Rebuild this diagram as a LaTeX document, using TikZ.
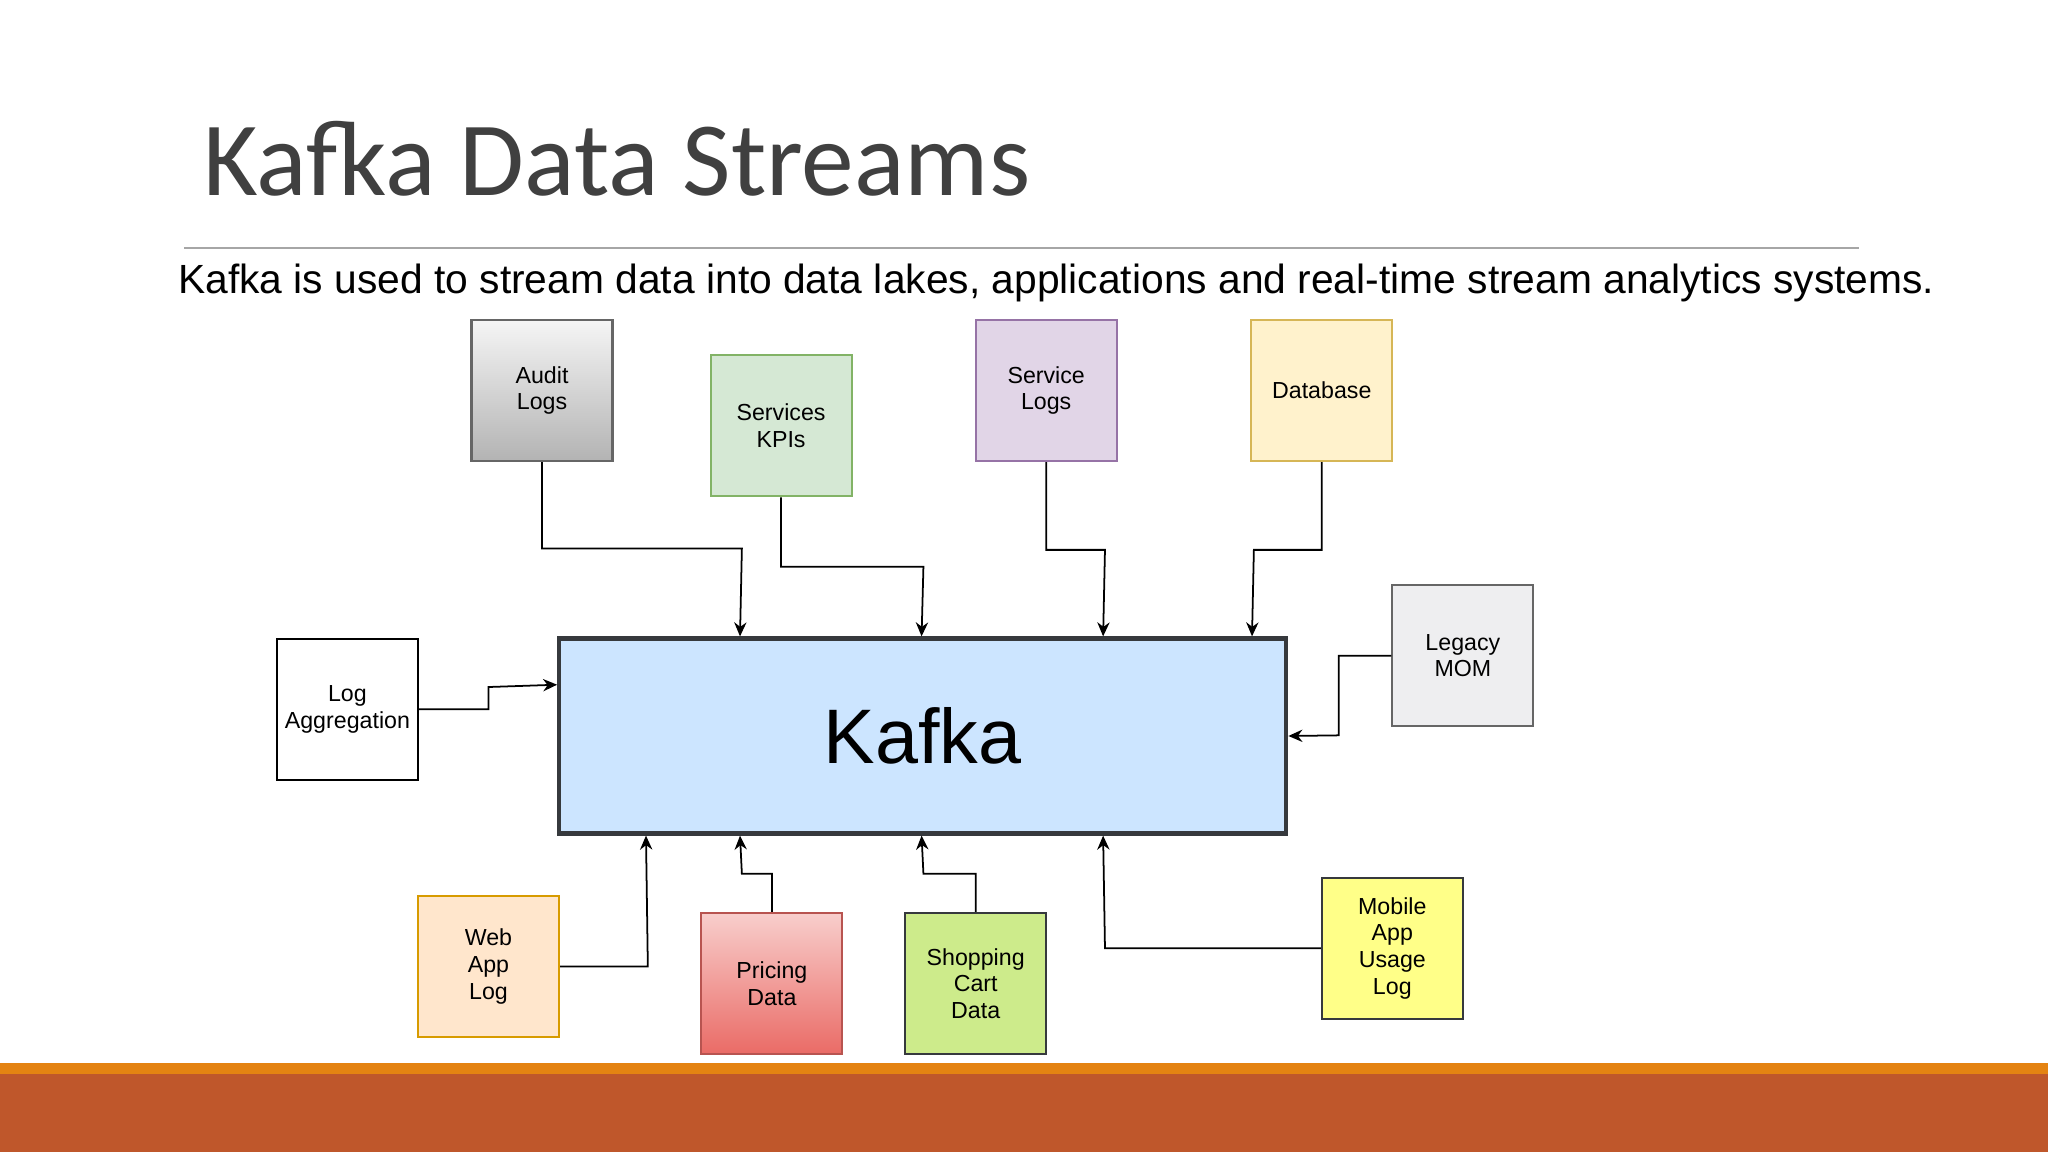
\documentclass[tikz,border=0pt]{standalone}
\usepackage{fontspec}
\setmainfont{Liberation Sans}
\newfontfamily\titlefont{Carlito}
\usetikzlibrary{calc,arrows.meta}
\definecolor{titlegray}{HTML}{404040}
\definecolor{cOrange}{HTML}{E48312}
\definecolor{cRust}{HTML}{BF572B}
\definecolor{cRule}{HTML}{A6A6A6}
\definecolor{c666}{HTML}{666666}
\definecolor{cF5}{HTML}{F5F5F5}
\definecolor{cB3}{HTML}{B3B3B3}
\definecolor{gD}{HTML}{82B366}
\definecolor{gF}{HTML}{D5E8D4}
\definecolor{pD}{HTML}{9673A6}
\definecolor{pF}{HTML}{E1D5E7}
\definecolor{yD}{HTML}{D6B656}
\definecolor{yF}{HTML}{FFF2CC}
\definecolor{momF}{HTML}{EEEEF0}
\definecolor{dk}{HTML}{36393D}
\definecolor{kF}{HTML}{CCE5FF}
\definecolor{oD}{HTML}{D79B00}
\definecolor{oF}{HTML}{FFE6CC}
\definecolor{rD}{HTML}{B85450}
\definecolor{rT}{HTML}{F8CECC}
\definecolor{rB}{HTML}{EA6B66}
\definecolor{lgF}{HTML}{CDEB8B}
\definecolor{yyF}{HTML}{FFFF88}
\begin{document}
\begin{tikzpicture}[x=0.01306cm,y=-0.01306cm,
  box/.style={draw, line width=0.6pt, minimum width=1.41cm, minimum height=1.41cm, align=center, font=\fontsize{6.6}{7.6}\selectfont, inner sep=0pt},
  arr/.style={draw, line width=0.5pt, -{Stealth[length=4pt,width=3.5pt]}}]
\useasboundingbox (0,0) rectangle (1568,882);
\fill[white] (0,0) rectangle (1568,882);
\fill[cOrange] (0,814) rectangle (1568,822);
\fill[cRust] (0,822) rectangle (1568,882);
\node[anchor=base west, text=titlegray, font=\titlefont\fontsize{30}{34}\selectfont, inner sep=0pt] (title) at (155,150) {Kafka Data Streams};
\draw[cRule, line width=0.6pt] (141,190) -- (1423,190);
\node[anchor=base west, inner sep=0pt, font=\fontsize{11.6}{14}\selectfont] (sub) at (136,225) {Kafka is used to stream data into data lakes, applications and real-time stream analytics systems.};

\node[box, draw=c666, top color=cF5, bottom color=cB3] (audit) at (415,299) {Audit\\Logs};
\node[box, draw=gD, fill=gF] (kpi) at (598,326) {Services\\KPIs};
\node[box, draw=pD, fill=pF] (slogs) at (801,299) {Service\\Logs};
\node[box, draw=yD, fill=yF] (db) at (1012,299) {Database};
\node[box, draw=c666, fill=momF] (mom) at (1120,502) {Legacy\\MOM};
\node[box, draw=black, fill=white] (logagg) at (266,543) {Log\\Aggregation};
\node[draw=dk, line width=1.2pt, fill=kF, minimum width=7.27cm, minimum height=1.95cm, font=\fontsize{22}{26}\selectfont, inner sep=0pt] (kafka) at (706.5,563.5) {Kafka};
\node[box, draw=oD, fill=oF] (web) at (374,740) {Web\\App\\Log};
\node[box, draw=rD, top color=rT, bottom color=rB] (price) at (591,753) {Pricing\\Data};
\node[box, draw=dk, fill=lgF] (cart) at (747,753) {Shopping\\Cart\\Data};
\node[box, draw=dk, fill=yyF] (mobile) at (1066,726) {Mobile\\App\\Usage\\Log};

\draw[arr] (audit.south) -- (415,420) -- (568,420) -- ($(kafka.north west)+(140,0)$);
\draw[arr] (kpi.south) -- (598,434) -- (707,434) -- ($(kafka.north west)+(279,0)$);
\draw[arr] (slogs.south) -- (801,421) -- (846,421) -- ($(kafka.north west)+(418,0)$);
\draw[arr] (db.south) -- (1012,421) -- (960,421) -- ($(kafka.north west)+(532,0)$);
\draw[arr] (mom.west) -- (1025,502) -- (1025,563) -- (kafka.east);
\draw[arr] (logagg.east) -- (374,543) -- (374,526) -- ($(kafka.north west)+(0,37)$);
\draw[arr] (web.east) -- (496,740) -- ($(kafka.south west)+(68,0)$);
\draw[arr] (price.north) -- (591,669) -- (568,669) -- ($(kafka.south west)+(140,0)$);
\draw[arr] (cart.north) -- (747,669) -- (707,669) -- ($(kafka.south west)+(279,0)$);
\draw[arr] (mobile.west) -- (846,726) -- ($(kafka.south west)+(418,0)$);
\end{tikzpicture}
\end{document}
